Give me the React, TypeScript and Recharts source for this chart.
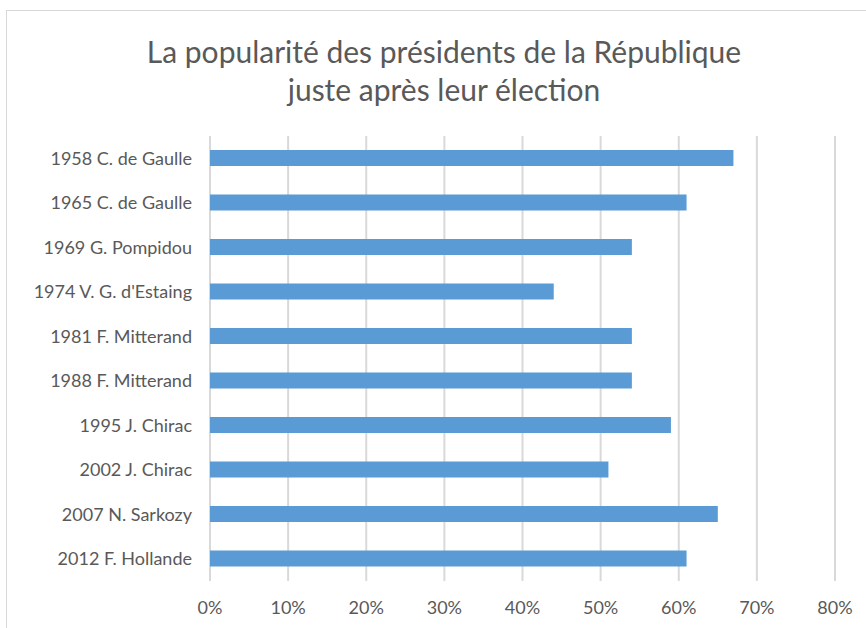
import { BarChart, Bar, XAxis, YAxis, CartesianGrid } from 'recharts';

const presidents = [
  '1958 C. de Gaulle',
  '1965 C. de Gaulle',
  '1969 G. Pompidou',
  "1974 V. G. d'Estaing",
  '1981 F. Mitterand',
  '1988 F. Mitterand',
  '1995 J. Chirac',
  '2002 J. Chirac',
  '2007 N. Sarkozy',
  '2012 F. Hollande',
];
const popularity = [0.67, 0.61, 0.54, 0.44, 0.54, 0.54, 0.59, 0.51, 0.65, 0.61];
const xTicks = [0, 0.1, 0.2, 0.3, 0.4, 0.5, 0.6, 0.7, 0.8];

const data = presidents.map((name, i) => ({ name, value: popularity[i] }));

const FONT = 'Lato, "Open Sans", sans-serif';
const GREY = '#595959';

export default function App() {
  return (
    <div style={{ position: 'absolute', left: 0, top: 0, width: 866, height: 628, overflow: 'hidden', background: '#fff', fontFamily: FONT }}>
      <div style={{ position: 'absolute', left: 6, top: 10, width: 900, height: 700, border: '1px solid #d9d9d9' }} />
      <div style={{ position: 'absolute', left: 44, width: 800, top: 32, textAlign: 'center', color: GREY, fontSize: 30, lineHeight: '38px' }}>
        La popularité des présidents de la République<br />juste après leur élection
      </div>
      <div style={{ position: 'absolute', left: 0, top: 0 }}>
        <BarChart
          width={866}
          height={628}
          data={data}
          layout="vertical"
          margin={{ top: 136, right: 31, bottom: 12, left: 10 }}
        >
          <CartesianGrid horizontal={false} stroke="#d9d9d9" strokeWidth={2} />
          <XAxis
            type="number"
            domain={[0, 0.8]}
            ticks={xTicks}
            tickFormatter={v => `${Math.round(v * 100)}%`}
            axisLine={false}
            tickLine={false}
            height={35}
            tickMargin={14}
            tick={{ fill: GREY, fontSize: 18, fontFamily: FONT }}
          />
          <YAxis
            type="category"
            dataKey="name"
            width={200}
            axisLine={false}
            tickLine={false}
            tickMargin={12}
            interval={0}
            tick={{ fill: GREY, fontSize: 18, fontFamily: FONT }}
          />
          <Bar dataKey="value" fill="#5b9bd5" barSize={16} isAnimationActive={false} />
        </BarChart>
      </div>
    </div>
  );
}
